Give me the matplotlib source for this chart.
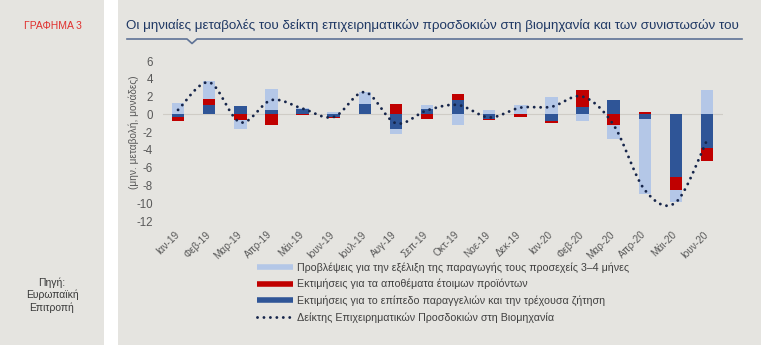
import numpy as np
import matplotlib
matplotlib.use("Agg")
import matplotlib.pyplot as plt
from matplotlib.patches import Rectangle
from matplotlib.lines import Line2D
import matplotlib.transforms as mtransforms

plt.rcParams['font.family'] = ['Liberation Sans', 'DejaVu Sans']

# ---- data ----
months = ["Ιαν-19", "Φεβ-19", "Μαρ-19", "Απρ-19", "Μάι-19", "Ιουν-19",
          "Ιουλ-19", "Αυγ-19", "Σεπ-19", "Οκτ-19", "Νοε-19", "Δεκ-19",
          "Ιαν-20", "Φεβ-20", "Μαρ-20", "Απρ-20", "Μάι-20", "Ιουν-20"]

# contributions (monthly change, points)
orders = [-0.3, 1.1, 0.9, 0.5, 0.6, -0.3, 1.2, -1.6, 0.55, 1.6, -0.5, 0.0,
          -0.8, 0.8, 1.6, -0.55, -7.0, -3.8]
stocks = [-0.4, 0.6, -0.6, -1.2, -0.1, -0.15, 0.0, 1.2, -0.55, 0.65, -0.15, -0.3,
          -0.15, 1.95, -1.2, 0.3, -1.55, -1.4]
production = [1.3, 2.0, -1.1, 2.3, 0.15, 0.25, 1.3, -0.6, 0.5, -1.25, 0.5, 1.05,
              2.0, -0.7, -1.6, -8.4, -1.3, 2.7]
confidence = [0.5, 3.6, -0.9, 1.6, 0.65, -0.3, 2.5, -1.0, 0.45, 1.05, -0.35, 0.75,
              0.85, 2.0, -1.2, -8.5, -9.9, -2.9]

yticks = [6, 4, 2, 0, -2, -4, -6, -8, -10, -12]

labels = ["Προβλέψεις για την εξέλιξη της παραγωγής τους προσεχείς 3–4 μήνες",
          "Εκτιμήσεις για τα αποθέματα έτοιμων προϊόντων",
          "Εκτιμήσεις για το επίπεδο παραγγελιών και την τρέχουσα ζήτηση",
          "Δείκτης Επιχειρηματικών Προσδοκιών στη Βιομηχανία"]

# ---- style ----
BG = "#e5e4e0"
C_LIGHT = "#b4c7e7"
C_RED = "#c00000"
C_DARK = "#2f5597"
C_LINE = "#16254a"
TXT = "#595959"

W, H = 761, 345
fig = plt.figure(figsize=(W / 100, H / 100), dpi=100)
fig.patch.set_facecolor("white")

# side panel and main panel
fig.add_artist(Rectangle((0, 0), 104 / W, 1, transform=fig.transFigure,
                         facecolor=BG, edgecolor="none", zorder=0))
fig.add_artist(Rectangle((118 / W, 0), 1 - 118 / W, 1, transform=fig.transFigure,
                         facecolor=BG, edgecolor="none", zorder=0))

def fx(px):
    return px / W

def fy(py):
    return 1 - py / H

fig.text(fx(53), fy(26), "ΓΡΑΦΗΜΑ 3", color="#e0302e", fontsize=7.5,
         ha="center", va="center")
fig.text(fx(52), fy(295), "Πηγή:\nΕυρωπαϊκή\nΕπιτροπή", color="#3a3a3a",
         fontsize=7.5, ha="center", va="center", linespacing=1.25)

fig.text(fx(126), fy(25), "Οι μηνιαίες μεταβολές του δείκτη επιχειρηματικών "
         "προσδοκιών στη βιομηχανία και των συνιστωσών του",
         color="#1f3864", fontsize=9.65, ha="left", va="center")
ul = "#5f7396"
fig.add_artist(Line2D([fx(127), fx(187), fx(192), fx(197), fx(742)],
                      [fy(39), fy(39), fy(43.5), fy(39), fy(39)],
                      transform=fig.transFigure, color=ul, lw=1.2))

# ---- chart ----
ax = fig.add_axes([fx(162.5), fy(221), 560 / W, 160 / H])
ax.set_facecolor("none")
x = np.arange(len(months))

series = [(orders, C_DARK), (stocks, C_RED), (production, C_LIGHT)]
pos_base = np.zeros(len(x))
neg_base = np.zeros(len(x))
for vals, col in series:
    v = np.array(vals, dtype=float)
    bottom = np.where(v >= 0, pos_base, neg_base)
    ax.bar(x, v, width=0.4, bottom=bottom, color=col, zorder=2)
    pos_base = pos_base + np.clip(v, 0, None)
    neg_base = neg_base + np.clip(v, None, 0)


def smooth(xs, ys, n=40):
    pts = np.column_stack([xs, ys]).astype(float)
    P = np.vstack([pts[0], pts, pts[-1]])
    out = []
    for i in range(len(pts) - 1):
        p0, p1, p2, p3 = P[i], P[i + 1], P[i + 2], P[i + 3]
        c1 = p1 + (p2 - p0) / 6
        c2 = p2 - (p3 - p1) / 6
        t = np.linspace(0, 1, n)[:, None]
        seg = ((1 - t) ** 3) * p1 + 3 * ((1 - t) ** 2) * t * c1 \
            + 3 * (1 - t) * t ** 2 * c2 + t ** 3 * p2
        out.append(seg if i == 0 else seg[1:])
    return np.vstack(out)

curve = smooth(x, confidence)
ax.plot(curve[:, 0], curve[:, 1], color=C_LINE, lw=2.1,
        linestyle=(0, (0.01, 2.2)), dash_capstyle="round", zorder=3)

ax.axhline(0, color="#cfccc6", lw=0.8, zorder=1)

ax.set_xlim(-0.5, len(months) - 0.5)
ax.set_ylim(-12, 6)
ax.set_yticks(yticks)
ax.set_yticklabels([str(v) for v in yticks])
ax.set_xticks(x)
ax.set_xticklabels(months, rotation=45, ha="right", va="top")
ax.tick_params(axis="y", length=0, pad=7, labelsize=8.3, labelcolor=TXT)
ax.tick_params(axis="x", length=0, pad=6, labelsize=7.2, labelcolor=TXT)
shift = mtransforms.ScaledTranslation(3 / 100, 0, fig.dpi_scale_trans)
for lab in ax.get_xticklabels():
    lab.set_transform(lab.get_transform() + shift)
for s in ax.spines.values():
    s.set_visible(False)

fig.text(fx(134), fy(132), "(μην. μεταβολή, μονάδες)", rotation=90,
         color=TXT, fontsize=7.3, ha="center", va="center")

# ---- legend ----
handles = [Line2D([], [], color=C_LIGHT, lw=4, solid_capstyle="butt"),
           Line2D([], [], color=C_RED, lw=4, solid_capstyle="butt"),
           Line2D([], [], color=C_DARK, lw=4, solid_capstyle="butt"),
           Line2D([], [], color=C_LINE, lw=2.1, linestyle=(0, (0.01, 2.2)),
                  dash_capstyle="round")]
leg = fig.legend(handles, labels, loc="upper left",
                 bbox_to_anchor=(fx(257), fy(262)), frameon=False,
                 fontsize=7.7, handlelength=3.4, handletextpad=0.3,
                 labelspacing=0.58, borderpad=0, borderaxespad=0)
for t in leg.get_texts():
    t.set_color("#404040")

fig.savefig("out.png", dpi=100, facecolor=fig.get_facecolor())
